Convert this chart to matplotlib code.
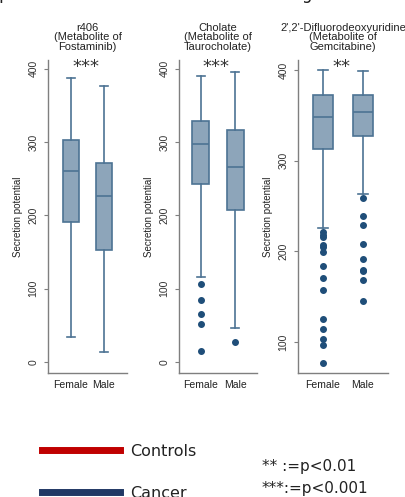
import numpy as np
import matplotlib
matplotlib.use("Agg")
import matplotlib.pyplot as plt

# secretion potential summaries per metabolite, Female / Male
groups = ["Female", "Male"]
titles = ["r406\n(Metabolite of\nFostaminib)",
          "Cholate\n(Metabolite of\nTaurocholate)",
          "2',2'-Difluorodeoxyuridine\n(Metabolite of\nGemcitabine)"]
stars = ["***", "***", "**"]

# whislo, q1, median, q3, whishi
r406_f = [34, 191, 260, 303, 387]
r406_m = [13, 153, 226, 272, 377]
chol_f = [116, 243, 297, 329, 390]
chol_m = [46, 207, 266, 316, 395]
dfdu_f = [226, 313, 348, 372, 400]
dfdu_m = [263, 327, 354, 372, 399]

chol_f_out = [107, 84, 66, 52, 15]
chol_m_out = [27]
dfdu_f_out = [221, 218, 216, 207, 205, 199, 184, 171, 158, 126, 115, 103, 97, 77]
dfdu_m_out = [259, 239, 229, 208, 192, 180, 178, 168, 145]

panels = [
    (r406_f, r406_m, [], []),
    (chol_f, chol_m, chol_f_out, chol_m_out),
    (dfdu_f, dfdu_m, dfdu_f_out, dfdu_m_out),
]

W, H = 405, 497
fig = plt.figure(figsize=(W / 100, H / 100), dpi=100)
arial = ["Liberation Sans", "DejaVu Sans"]

# axes boxes in pixels: left, right, top, bottom
boxes = [(48, 127, 60, 373), (179, 257, 60, 373), (298, 388, 60, 373)]
xlims = [(0.303, 2.697), (0.353, 2.647), (0.375, 2.625)]
ylims = [(-15, 412), (-15, 412), (66, 411)]
yticks = [[0, 100, 200, 300, 400], [0, 100, 200, 300, 400], [100, 200, 300, 400]]

face = "#8da5ba"
edge = "#4d7393"
dot = "#1f4e79"
spine = "#7f7f7f"

def stats(vals, outs, label):
    lo, q1, med, q3, hi = vals
    return dict(whislo=lo, q1=q1, med=med, q3=q3, whishi=hi, fliers=outs, label=label)

for i, (f, m, fo, mo) in enumerate(panels):
    l, r, t, b = boxes[i]
    ax = fig.add_axes([l / W, 1 - b / H, (r - l) / W, (b - t) / H])
    st = [stats(f, fo, groups[0]), stats(m, mo, groups[1])]
    ax.bxp(st, positions=[1, 2], widths=0.5, patch_artist=True,
           boxprops=dict(facecolor=face, edgecolor=edge, linewidth=1.2),
           medianprops=dict(color=edge, linewidth=1.2),
           whiskerprops=dict(color=edge, linewidth=1.2),
           capprops=dict(color=edge, linewidth=1.2),
           flierprops=dict(marker="o", markerfacecolor=dot, markeredgecolor=dot, markersize=4))
    ax.set_xlim(*xlims[i])
    ax.set_ylim(*ylims[i])
    ax.set_yticks(yticks[i])
    ax.set_yticklabels([str(v) for v in yticks[i]], rotation=90, va="center",
                       fontsize=7.5, color="#333333", family=arial)
    ax.set_xticks([1, 2])
    ax.set_xticklabels(groups, fontsize=7.5, color="#222222", family=arial)
    ax.tick_params(axis="x", length=0, pad=5)
    ax.tick_params(axis="y", length=3, color=spine, pad=4)
    for s in ["top", "right"]:
        ax.spines[s].set_visible(False)
    for s in ["left", "bottom"]:
        ax.spines[s].set_color(spine)
        ax.spines[s].set_linewidth(1.0)
    ax.set_ylabel("Secretion potential", fontsize=7, color="#222222", labelpad=4, family=arial)
    ax.text(1.45, 1 - 7 / 313, stars[i], transform=ax.get_xaxis_transform(),
            ha="center", va="center", fontsize=13, color="#333333")
    ax.text(0.5, 1 + 8 / 313, titles[i], transform=ax.transAxes, ha="center", va="bottom",
            fontsize=8, linespacing=0.95, color="#222222", family=arial)

# panel heading, mostly running off the top edge
fig.text(210 / W, 1 + 1 / H, "c) Top predicted secretors of metabolic drug metabolites by sex",
         ha="center", va="baseline", fontsize=12, color="#222222")

# legend
fig.add_artist(plt.Line2D([42 / W, 120 / W], [1 - 450 / H] * 2, color="#c00000", linewidth=5))
fig.text(130 / W, 1 - 451 / H, "Controls", fontsize=11.5, va="center", color="#222222")
fig.add_artist(plt.Line2D([42 / W, 120 / W], [1 - 492 / H] * 2, color="#203864", linewidth=5))
fig.text(130 / W, 1 - 493 / H, "Cancer", fontsize=11.5, va="center", color="#222222")
fig.text(262 / W, 1 - 466 / H, "** :=p<0.01", fontsize=11, va="center", color="#222222")
fig.text(262 / W, 1 - 488 / H, "***:=p<0.001", fontsize=11, va="center", color="#222222")

fig.savefig("out.png", dpi=100, facecolor="white")
